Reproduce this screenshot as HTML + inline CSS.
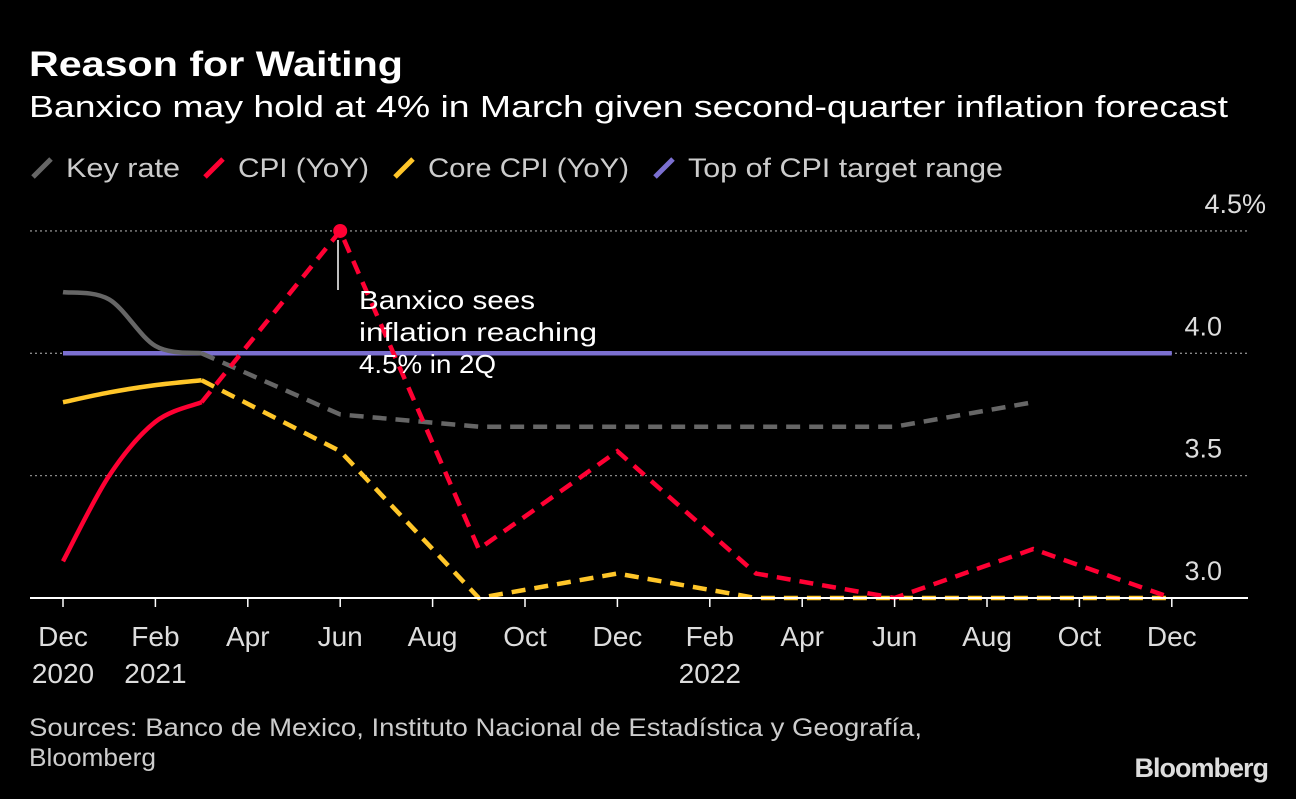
<!DOCTYPE html>
<html><head><meta charset="utf-8"><style>
body{margin:0;background:#000;width:1296px;height:794px;overflow:hidden;font-family:"Liberation Sans",sans-serif;}
svg text{font-family:"Liberation Sans",sans-serif;}
</style></head><body>
<svg id="c" width="1296" height="794">
<text x="29" y="76" fill="#fff" font-size="35" font-weight="bold" textLength="374" lengthAdjust="spacingAndGlyphs">Reason for Waiting</text>
<text x="29" y="117" fill="#fff" font-size="31" textLength="1199" lengthAdjust="spacingAndGlyphs">Banxico may hold at 4% in March given second-quarter inflation forecast</text>
<g font-size="27" fill="#ccc">
<line x1="33" y1="177" x2="51" y2="159" stroke="#666" stroke-width="5"/>
<text x="66" y="177" textLength="114" lengthAdjust="spacingAndGlyphs">Key rate</text>
<line x1="205" y1="177" x2="223" y2="159" stroke="#ff0033" stroke-width="5"/>
<text x="238" y="177" textLength="131" lengthAdjust="spacingAndGlyphs">CPI (YoY)</text>
<line x1="395" y1="177" x2="413" y2="159" stroke="#ffc629" stroke-width="5"/>
<text x="428" y="177" textLength="201" lengthAdjust="spacingAndGlyphs">Core CPI (YoY)</text>
<line x1="655" y1="177" x2="673" y2="159" stroke="#7b6fd0" stroke-width="5"/>
<text x="688" y="177" textLength="315" lengthAdjust="spacingAndGlyphs">Top of CPI target range</text>
</g>
<g id="grid"></g><g id="series"></g><g id="xaxis"></g>
<line x1="338" y1="240" x2="338" y2="290" stroke="#fff" stroke-width="1.5"/>
<text fill="#fff" font-size="26"><tspan x="359" y="309" textLength="176" lengthAdjust="spacingAndGlyphs">Banxico sees</tspan><tspan x="359" y="341" textLength="238" lengthAdjust="spacingAndGlyphs">inflation reaching</tspan><tspan x="359" y="373" textLength="137" lengthAdjust="spacingAndGlyphs">4.5% in 2Q</tspan></text>
<text fill="#ccc" font-size="25"><tspan x="29" y="736" textLength="893" lengthAdjust="spacingAndGlyphs">Sources: Banco de Mexico, Instituto Nacional de Estadística y Geografía,</tspan><tspan x="29" y="766" textLength="127" lengthAdjust="spacingAndGlyphs">Bloomberg</tspan></text>
<text x="1268" y="777" text-anchor="end" fill="#ddd" font-size="27" font-weight="bold" letter-spacing="-1">Bloomberg</text>
</svg>
<script>
const yTicks=[3.0,3.5,4.0,4.5];
const yTickLabels=["3.0","3.5","4.0","4.5%"];
const xTickMonths=[0,2,4,6,8,10,12,14,16,18,20,22,24];
const xTickLabels=["Dec","Feb","Apr","Jun","Aug","Oct","Dec","Feb","Apr","Jun","Aug","Oct","Dec"];
const xYearLabels=["2020","2021","","","","","","2022","","","","",""];
const keyRateSolidM=[0,1,2,3];const keyRateSolid=[4.25,4.22,4.03,4.0];
const keyRateDashM=[3,6,9,12,15,18,21];const keyRateDash=[4.0,3.75,3.7,3.7,3.7,3.7,3.8];
const cpiSolidM=[0,1,2,3];const cpiSolid=[3.15,3.5,3.72,3.8];
const cpiDashM=[3,6,9,12,15,18,21,24];const cpiDash=[3.8,4.5,3.2,3.6,3.1,3.0,3.2,3.0];
const coreSolidM=[0,1,2,3];const coreSolid=[3.8,3.84,3.87,3.89];
const coreDashM=[3,6,9,12,15,18,21,24];const coreDash=[3.89,3.6,3.0,3.1,3.0,3.0,3.0,3.0];
const targetM=[0,24];const target=[4.0,4.0];
const NS="http://www.w3.org/2000/svg";
const x=m=>63+m*46.2;
const y=v=>598-(v-3)*244.7;
function mk(t,a,p){const e=document.createElementNS(NS,t);for(const k in a)e.setAttribute(k,a[k]);p.appendChild(e);return e;}
const grid=document.getElementById('grid');
yTicks.forEach((v,i)=>{
 if(i>0){const l=mk('line',{x1:30,x2:1248,y1:y(v),y2:y(v),stroke:'#888','stroke-width':1.3,'stroke-dasharray':'2,3'},grid);
 
 }
 const t=mk('text',{x:i===3?1266:1222,y:y(v)-18,'text-anchor':'end',fill:'#ddd','font-size':27},grid);
 t.textContent=yTickLabels[i];
 
 
});
const xa=document.getElementById('xaxis');
const base=mk('line',{x1:30,x2:1248,y1:598,y2:598,stroke:'#fff','stroke-width':2},xa);


xTickMonths.forEach((m,i)=>{
 const tk=mk('line',{x1:x(m),x2:x(m),y1:598,y2:607,stroke:'#fff','stroke-width':1.5},xa);
 
 
 const t=mk('text',{x:x(m),y:646,'text-anchor':'middle',fill:'#ddd','font-size':28},xa);
 t.textContent=xTickLabels[i];
 
 
 if(xYearLabels[i]){const t2=mk('text',{x:x(m),y:683,'text-anchor':'middle',fill:'#ddd','font-size':28},xa);
 t2.textContent=xYearLabels[i];
 
 }
});
const sg=document.getElementById('series');
function smooth(ms,vs){const P=ms.map((m,i)=>[x(m),y(vs[i])]);let d=`M${P[0][0]},${P[0][1]}`;
 for(let i=0;i<P.length-1;i++){const p0=P[Math.max(0,i-1)],p1=P[i],p2=P[i+1],p3=P[Math.min(P.length-1,i+2)];
 const c1=[p1[0]+(p2[0]-p0[0])/6,p1[1]+(p2[1]-p0[1])/6],c2=[p2[0]-(p3[0]-p1[0])/6,p2[1]-(p3[1]-p1[1])/6];
 d+=` C${c1[0]},${c1[1]} ${c2[0]},${c2[1]} ${p2[0]},${p2[1]}`;}return d;}
function poly(ms,vs){return ms.map((m,i)=>(i?'L':'M')+x(m)+','+y(vs[i])).join(' ');}
function path(d,col,dash,name){const p=mk('path',{d:d,fill:'none',stroke:col,'stroke-width':4.5,'stroke-dasharray':dash?'14,9':'none'},sg);
 
 }
path(poly(targetM,target),'#7b6fd0',false,'target-line');
path(smooth(keyRateSolidM,keyRateSolid),'#666',false,'key-rate-actual');
path(poly(keyRateDashM,keyRateDash),'#666',true,'key-rate-forecast');
path(smooth(coreSolidM,coreSolid),'#ffc629',false,'core-cpi-actual');
path(poly(coreDashM,coreDash),'#ffc629',true,'core-cpi-forecast');
path(smooth(cpiSolidM,cpiSolid),'#ff0033',false,'cpi-actual');
path(poly(cpiDashM,cpiDash),'#ff0033',true,'cpi-forecast');
const pk=cpiDash.indexOf(Math.max(...cpiDash));
const dot=mk('circle',{cx:x(cpiDashM[pk]),cy:y(cpiDash[pk]),r:7,fill:'#ff0033'},sg);


</script>
</body></html>
